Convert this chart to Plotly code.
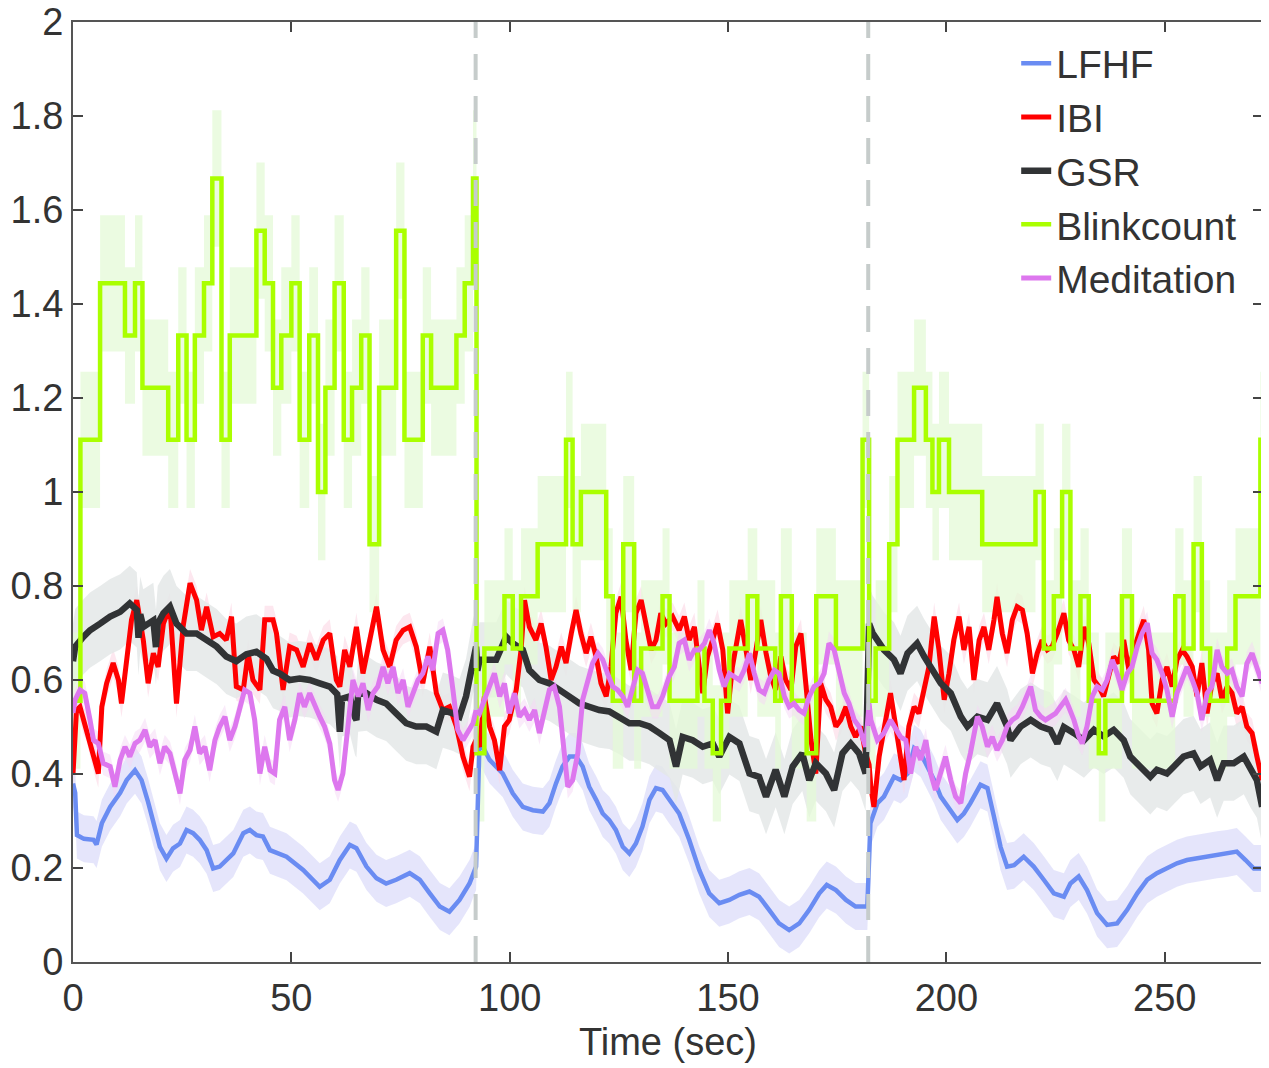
import plotly.graph_objects as go

# ---------------- data ----------------
# Segment boundaries (dashed lines), seconds
boundaries = [92.2, 182.1]

lfhf_x = [0, 0.5, 0.9, 2.5, 4.7, 5.4, 6.6, 8.5, 10.8, 12.3, 14.2, 15.7, 17.2, 18.4, 19.9, 21.4, 22.9, 24.5,
          26.0, 27.5, 29.0, 30.6, 32.1, 33.6, 35.1, 36.7, 39.0, 40.5, 42.0, 43.5, 45.1, 48.9, 52.7, 56.5,
          58.8, 61.1, 63.4, 64.9, 67.2, 69.5, 71.7, 74.0, 77.1, 79.4, 81.7, 84.0, 86.2, 88.5, 90.8, 92.3,
          93.1, 95.4, 98.4, 100.7, 103.0, 105.3, 107.6, 109.1, 110.6, 112.1, 113.7, 115.2, 116.7, 118.2,
          119.8, 121.3, 122.8, 124.3, 125.9, 127.4, 128.9, 130.4, 132.0, 133.5, 135.0, 136.5, 138.8, 141.1,
          143.4, 145.7, 148.0, 150.3, 152.6, 154.9, 157.1, 159.4, 161.7, 164.0, 166.3, 168.6, 170.9, 172.6,
          174.7, 177.0, 179.2, 181.9, 182.6, 184.2, 185.7, 188.0, 189.5, 191.1, 192.6, 194.1, 195.6, 197.2,
          198.7, 201.0, 202.5, 204.0, 205.5, 207.8, 209.4, 210.9, 212.4, 213.9, 215.5, 217.7, 220.0, 222.3,
          224.6, 226.9, 228.4, 230.3, 232.2, 234.5, 236.8, 239.1, 241.4, 243.7, 246.0, 248.2, 250.5, 252.8,
          255.1, 257.4, 259.7, 262.0, 264.3, 266.5, 268.5, 270.4, 272.3]
lfhf_y = [0.38, 0.36, 0.27, 0.262, 0.26, 0.25, 0.295, 0.33, 0.36, 0.387, 0.408, 0.387, 0.34, 0.295, 0.245, 0.22,
          0.242, 0.252, 0.281, 0.274, 0.26, 0.238, 0.199, 0.203, 0.217, 0.231, 0.274, 0.281, 0.27, 0.267, 0.238,
          0.224, 0.196, 0.16, 0.175, 0.217, 0.249, 0.242, 0.203, 0.178, 0.167, 0.175, 0.189, 0.175, 0.146, 0.118,
          0.107, 0.132, 0.167, 0.203, 0.472, 0.43, 0.401, 0.359, 0.33, 0.323, 0.32, 0.338, 0.38, 0.416, 0.437,
          0.437, 0.416, 0.373, 0.345, 0.316, 0.302, 0.281, 0.245, 0.231, 0.252, 0.288, 0.345, 0.37, 0.366, 0.345,
          0.316, 0.26, 0.196, 0.146, 0.125, 0.132, 0.143, 0.15, 0.139, 0.111, 0.082, 0.068, 0.082, 0.111, 0.146,
          0.164, 0.153, 0.132, 0.118, 0.118, 0.295, 0.338, 0.352, 0.394, 0.387, 0.401, 0.455, 0.444, 0.416,
          0.387, 0.352, 0.323, 0.302, 0.316, 0.338, 0.377, 0.37, 0.309, 0.245, 0.203, 0.206, 0.224, 0.203, 0.175,
          0.146, 0.139, 0.167, 0.182, 0.153, 0.104, 0.079, 0.082, 0.111, 0.146, 0.175, 0.189, 0.199, 0.21, 0.217,
          0.221, 0.224, 0.228, 0.231, 0.235, 0.217, 0.199, 0.199]

ibi_x = [0, 0.8, 1.6, 2.4, 3.1, 4.7, 5.8, 6.6, 7.7, 9.2, 10.4, 11.1, 12.3, 13.4, 14.6, 16.1, 17.2, 18.4, 19.5,
         20.7, 22.2, 23.7, 25.2, 26.8, 28.3, 29.4, 30.6, 32.1, 33.6, 35.1, 36.3, 37.4, 39.0, 40.1, 41.2, 42.8,
         43.9, 45.8, 46.6, 48.1, 49.6, 51.2, 52.7, 54.2, 55.7, 57.3, 58.8, 60.3, 61.1, 62.2, 63.4, 64.9, 66.4,
         67.9, 69.5, 71.0, 72.5, 74.0, 75.6, 77.1, 78.6, 80.1, 81.7, 83.2, 84.7, 86.2, 87.8, 89.3, 90.8, 91.6,
         92.3, 93.1, 94.2, 95.4, 96.5, 97.7, 98.8, 99.9, 101.5, 102.6, 103.4, 104.5, 106.0, 107.2, 108.3, 109.5,
         110.6, 111.8, 112.9, 114.1, 115.2, 116.3, 117.5, 118.6, 119.8, 120.9, 122.1, 123.2, 124.3, 125.5,
         126.6, 127.8, 128.9, 130.1, 131.2, 132.4, 133.5, 134.6, 135.8, 137.3, 138.8, 140.0, 141.1, 142.3,
         143.4, 144.2, 145.3, 146.5, 147.6, 148.8, 149.9, 151.0, 152.2, 152.9, 154.1, 155.2, 156.4, 157.5,
         158.7, 159.8, 160.9, 162.1, 163.2, 164.4, 165.5, 166.7, 167.8, 169.0, 170.1, 171.2, 172.4, 173.5,
         174.7, 175.8, 177.0, 178.1, 179.2, 180.4, 181.5, 182.3, 182.7, 183.4, 184.6, 185.7, 187.2, 188.4,
         189.5, 190.3, 191.4, 192.6, 193.7, 194.9, 196.0, 197.2, 198.3, 199.5, 200.6, 201.7, 202.9, 204.0,
         205.2, 206.3, 207.5, 208.6, 209.7, 210.9, 211.6, 212.8, 213.9, 215.1, 216.2, 217.4, 218.5, 219.7,
         220.8, 221.9, 223.1, 224.2, 225.4, 226.9, 228.0, 229.2, 230.3, 231.5, 232.6, 233.8, 234.9, 236.0,
         237.2, 238.3, 239.5, 240.6, 241.8, 242.9, 244.1, 245.2, 246.3, 247.1, 248.2, 249.4, 250.5, 251.7,
         252.8, 254.0, 255.1, 256.3, 257.4, 258.5, 259.7, 260.8, 262.0, 263.1, 264.3, 265.4, 266.5, 267.7,
         268.8, 270.0, 271.1, 272.3]
ibi_y = [0.40, 0.536, 0.543, 0.515, 0.50, 0.437, 0.401, 0.543, 0.593, 0.636, 0.6, 0.55, 0.636, 0.728, 0.77,
         0.685, 0.593, 0.657, 0.628, 0.72, 0.756, 0.55, 0.713, 0.806, 0.77, 0.706, 0.756, 0.692, 0.699, 0.685,
         0.735, 0.586, 0.579, 0.657, 0.6, 0.579, 0.728, 0.728, 0.699, 0.579, 0.671, 0.664, 0.628, 0.678, 0.643,
         0.685, 0.699, 0.6, 0.586, 0.664, 0.628, 0.713, 0.614, 0.678, 0.756, 0.664, 0.628, 0.685, 0.706, 0.713,
         0.671, 0.593, 0.671, 0.572, 0.536, 0.543, 0.501, 0.437, 0.394, 0.458, 0.472, 0.458, 0.565, 0.501,
         0.472, 0.408, 0.501, 0.515, 0.579, 0.664, 0.77, 0.713, 0.685, 0.72, 0.671, 0.6, 0.628, 0.671, 0.636,
         0.699, 0.749, 0.699, 0.657, 0.692, 0.65, 0.593, 0.565, 0.628, 0.742, 0.777, 0.685, 0.621, 0.742, 0.77,
         0.72, 0.664, 0.685, 0.742, 0.72, 0.735, 0.706, 0.735, 0.685, 0.713, 0.628, 0.572, 0.65, 0.685, 0.72,
         0.664, 0.529, 0.628, 0.692, 0.728, 0.664, 0.6, 0.664, 0.728, 0.657, 0.607, 0.579, 0.65, 0.60, 0.579,
         0.671, 0.699, 0.593, 0.472, 0.401, 0.593, 0.558, 0.543, 0.501, 0.515, 0.543, 0.501, 0.479, 0.501,
         0.444, 0.42, 0.373, 0.33, 0.437, 0.501, 0.572, 0.501, 0.437, 0.387, 0.501, 0.543, 0.529, 0.579, 0.628,
         0.735, 0.664, 0.558, 0.614, 0.685, 0.735, 0.664, 0.713, 0.6, 0.685, 0.713, 0.664, 0.728, 0.777, 0.699,
         0.657, 0.728, 0.756, 0.749, 0.699, 0.614, 0.657, 0.685, 0.664, 0.671, 0.699, 0.742, 0.685, 0.664,
         0.628, 0.713, 0.678, 0.6, 0.586, 0.565, 0.614, 0.65, 0.636, 0.685, 0.621, 0.664, 0.699, 0.728, 0.664,
         0.55, 0.529, 0.6, 0.628, 0.586, 0.643, 0.664, 0.65, 0.628, 0.565, 0.636, 0.529, 0.593, 0.614, 0.558,
         0.586, 0.572, 0.529, 0.543, 0.501, 0.487, 0.437, 0.387]

gsr_x = [0, 0.5, 2.4, 3.9, 6.2, 8.5, 10.8, 13.0, 14.6, 15.0, 15.4, 16.1, 18.4, 19.0, 19.4, 20.7, 22.2, 23.7,
         26.0, 28.3, 30.6, 32.9, 35.1, 37.4, 39.7, 42.0, 44.3, 45.8, 47.3, 49.6, 51.9, 54.2, 56.5, 58.8, 60.5,
         61.1, 61.6, 63.4, 64.6, 64.9, 65.3, 67.2, 69.5, 71.7, 74.0, 76.3, 78.6, 80.9, 83.2, 84.7, 87.0, 88.5,
         90.0, 91.6, 92.3, 92.6, 93.1, 95.4, 96.9, 99.2, 100.7, 103.0, 104.5, 106.8, 109.1, 111.4, 113.7,
         116.0, 118.2, 120.5, 122.8, 125.1, 127.4, 129.7, 132.0, 134.3, 136.6, 138.1, 139.6, 141.9, 144.2,
         146.5, 148.0, 150.3, 152.6, 154.9, 157.1, 158.7, 160.9, 162.9, 164.8, 167.0, 168.6, 170.1, 172.4,
         174.3, 176.2, 178.1, 180.0, 181.5, 182.3, 183.1, 185.7, 188.0, 189.5, 191.1, 193.3, 194.9, 196.4,
         198.7, 201.0, 203.3, 204.8, 207.1, 209.4, 211.6, 213.9, 214.7, 217.0, 219.3, 221.6, 223.8, 225.4,
         226.9, 229.2, 231.5, 233.8, 236.0, 238.3, 240.6, 242.1, 244.4, 246.7, 248.2, 250.5, 252.1, 254.3,
         256.6, 258.2, 260.4, 262.0, 263.5, 265.8, 268.1, 269.6, 271.1, 272.3]
gsr_y = [0.64, 0.671, 0.692, 0.706, 0.72, 0.735, 0.745, 0.763, 0.749, 0.69, 0.74, 0.713, 0.727, 0.67, 0.72,
         0.742, 0.756, 0.72, 0.699, 0.699, 0.685, 0.671, 0.65, 0.64, 0.655, 0.66, 0.645, 0.62, 0.614, 0.6,
         0.603, 0.6, 0.593, 0.586, 0.57, 0.49, 0.56, 0.565, 0.52, 0.515, 0.57, 0.572, 0.558, 0.55, 0.529, 0.508,
         0.501, 0.501, 0.49, 0.536, 0.529, 0.522, 0.565, 0.65, 0.671, 0.62, 0.643, 0.643, 0.643, 0.692, 0.678,
         0.664, 0.621, 0.6, 0.593, 0.579, 0.565, 0.55, 0.543, 0.536, 0.533, 0.522, 0.508, 0.508, 0.501, 0.487,
         0.472, 0.416, 0.479, 0.472, 0.458, 0.465, 0.437, 0.479, 0.465, 0.401, 0.394, 0.352, 0.409, 0.352,
         0.416, 0.444, 0.387, 0.423, 0.401, 0.366, 0.444, 0.465, 0.444, 0.401, 0.72, 0.70, 0.664, 0.643, 0.614,
         0.657, 0.678, 0.65, 0.628, 0.593, 0.572, 0.522, 0.501, 0.522, 0.515, 0.55, 0.501, 0.472, 0.501, 0.515,
         0.501, 0.494, 0.465, 0.50, 0.487, 0.472, 0.494, 0.48, 0.494, 0.472, 0.437, 0.416, 0.394, 0.409, 0.401,
         0.416, 0.437, 0.444, 0.416, 0.43, 0.387, 0.423, 0.423, 0.437, 0.409, 0.387, 0.33]

med_x = [0, 0.5, 1.6, 2.7, 3.9, 4.7, 5.8, 6.9, 8.5, 9.6, 10.8, 11.9, 13.0, 14.2, 15.3, 16.5, 17.6, 18.8, 19.9,
         21.0, 22.2, 23.3, 24.5, 25.6, 26.8, 27.9, 29.0, 30.2, 31.3, 32.5, 33.6, 34.8, 35.9, 37.1, 38.2, 39.3,
         40.5, 41.6, 42.8, 43.9, 45.1, 46.2, 47.3, 48.5, 49.6, 50.8, 51.9, 53.0, 54.2, 55.4, 56.5, 57.6, 58.8,
         59.9, 60.7, 61.8, 63.0, 64.1, 65.3, 66.4, 67.6, 68.7, 69.8, 71.0, 72.1, 73.3, 74.4, 75.6, 76.7, 77.8,
         79.0, 80.1, 81.3, 82.4, 83.6, 84.7, 85.8, 87.0, 88.1, 89.3, 90.4, 91.6, 92.3, 93.1, 94.2, 95.4, 96.5,
         97.7, 98.8, 99.9, 101.1, 102.2, 103.4, 104.5, 105.7, 106.8, 108.0, 109.1, 110.2, 111.4, 112.5, 113.3,
         114.4, 115.6, 116.7, 117.9, 119.0, 120.2, 121.3, 122.4, 123.6, 124.7, 125.9, 127.0, 128.2, 129.3,
         130.4, 131.6, 132.7, 133.9, 135.0, 136.5, 137.7, 138.8, 140.0, 141.1, 142.3, 143.4, 144.6, 145.7,
         146.8, 148.0, 149.1, 150.3, 151.4, 152.6, 153.7, 154.9, 156.0, 157.1, 158.3, 159.4, 160.6, 161.7,
         162.9, 164.0, 165.1, 166.3, 167.4, 168.6, 169.7, 170.9, 172.0, 173.1, 174.3, 175.4, 176.6, 177.7,
         178.9, 180.0, 181.5, 182.3, 182.7, 184.2, 185.7, 187.2, 188.4, 189.5, 190.7, 191.8, 193.0, 194.1,
         195.3, 196.4, 197.5, 198.7, 199.8, 201.0, 202.1, 203.3, 204.4, 205.5, 207.1, 208.2, 209.4, 210.5,
         211.6, 212.8, 213.9, 215.1, 216.2, 217.4, 218.5, 219.3, 220.4, 221.6, 222.7, 223.8, 225.0, 226.1,
         227.3, 228.0, 229.2, 230.3, 231.1, 232.2, 233.4, 234.5, 235.7, 236.8, 238.0, 239.1, 240.2, 241.4,
         242.5, 243.7, 244.8, 246.0, 247.1, 248.2, 249.4, 250.5, 251.7, 252.8, 254.0, 255.1, 256.3, 257.4,
         258.5, 259.7, 260.8, 262.0, 263.1, 264.3, 265.4, 266.5, 267.7, 268.8, 270.0, 271.1, 272.3]
med_y = [0.53, 0.558, 0.579, 0.572, 0.515, 0.472, 0.465, 0.423, 0.416, 0.373, 0.43, 0.458, 0.437, 0.465,
         0.472, 0.494, 0.458, 0.472, 0.423, 0.458, 0.444, 0.408, 0.359, 0.43, 0.451, 0.501, 0.444, 0.458,
         0.408, 0.472, 0.501, 0.522, 0.472, 0.501, 0.543, 0.579, 0.572, 0.515, 0.401, 0.458, 0.408, 0.401,
         0.515, 0.543, 0.472, 0.515, 0.572, 0.543, 0.572, 0.543, 0.522, 0.501, 0.465, 0.387, 0.366, 0.401,
         0.501, 0.6, 0.565, 0.593, 0.536, 0.572, 0.586, 0.628, 0.593, 0.628, 0.572, 0.6, 0.543, 0.572, 0.6,
         0.614, 0.65, 0.621, 0.699, 0.706, 0.664, 0.579, 0.494, 0.472, 0.487, 0.508, 0.536, 0.529, 0.558,
         0.586, 0.614, 0.565, 0.593, 0.529, 0.572, 0.522, 0.536, 0.515, 0.536, 0.487, 0.536, 0.579, 0.586,
         0.543, 0.444, 0.373, 0.387, 0.444, 0.558, 0.6, 0.636, 0.657, 0.643, 0.614, 0.586, 0.579, 0.565,
         0.543, 0.586, 0.621, 0.614, 0.572, 0.543, 0.543, 0.565, 0.607, 0.628, 0.678, 0.685, 0.643, 0.664,
         0.664, 0.678, 0.706, 0.678, 0.621, 0.586, 0.614, 0.607, 0.6, 0.621, 0.657, 0.614, 0.579, 0.572, 0.6,
         0.621, 0.614, 0.565, 0.543, 0.55, 0.536, 0.529, 0.565, 0.586, 0.593, 0.614, 0.678, 0.664, 0.614,
         0.572, 0.55, 0.515, 0.501, 0.458, 0.55, 0.515, 0.472, 0.487, 0.515, 0.494, 0.479, 0.472, 0.401,
         0.458, 0.43, 0.472, 0.401, 0.366, 0.401, 0.437, 0.387, 0.352, 0.338, 0.401, 0.444, 0.522, 0.501,
         0.458, 0.479, 0.451, 0.472, 0.501, 0.515, 0.522, 0.543, 0.565, 0.586, 0.536, 0.522, 0.515, 0.522,
         0.529, 0.543, 0.558, 0.543, 0.515, 0.48, 0.465, 0.501, 0.565, 0.586, 0.579, 0.6, 0.643, 0.614, 0.579,
         0.614, 0.628, 0.671, 0.699, 0.721, 0.657, 0.643, 0.614, 0.579, 0.522, 0.572, 0.6, 0.628, 0.6, 0.572,
         0.515, 0.572, 0.586, 0.664, 0.628, 0.614, 0.621, 0.586, 0.565, 0.635, 0.657, 0.628, 0.593]

# Blink count: step function (time where each level starts, level value)
blink_x = [0, 1.7, 6.2, 11.9, 14.2, 15.9, 21.8, 24.1, 26.0, 27.9, 30.0, 31.9, 34.0, 35.9, 42.0, 43.9, 45.8,
           47.7, 50.0, 51.9, 54.1, 56.1, 57.8, 59.9, 62.0, 63.9, 66.0, 67.9, 70.1, 74.0, 75.9, 80.1, 82.0,
           87.8, 89.7, 91.6,
           92.4, 94.2, 98.8, 100.7, 102.6, 106.4, 112.9, 114.4, 116.3, 122.1, 123.6, 126.0, 128.5, 130.1,
           135.0, 136.6, 143.0, 144.6, 146.5, 148.4, 150.3, 154.5, 156.7, 160.8, 162.1, 164.6, 168.0, 170.2,
           174.7, 180.8,
           182.3, 183.8, 186.9, 188.8, 192.6, 195.3, 196.8, 198.3, 200.6, 208.2, 220.4, 222.3, 224.6, 226.5,
           228.4, 230.7, 232.6, 234.9, 236.4, 240.2, 242.5, 252.4, 254.3, 256.6, 258.5, 260.4, 264.3, 266.2,
           271.9, 272.5]
blink_y = [0.556, 1.111, 1.444, 1.333, 1.444, 1.222, 1.111, 1.333, 1.111, 1.333, 1.444, 1.667, 1.111, 1.333,
           1.556, 1.444, 1.222, 1.333, 1.444, 1.111, 1.333, 1.0, 1.222, 1.444, 1.111, 1.222, 1.333, 0.889,
           1.222, 1.556, 1.111, 1.333, 1.222, 1.333, 1.444, 1.667,
           0.444, 0.667, 0.778, 0.667, 0.778, 0.889, 1.111, 0.889, 1.0, 0.778, 0.556, 0.889, 0.556, 0.667,
           0.778, 0.556, 0.667, 0.556, 0.444, 0.556, 0.667, 0.778, 0.667, 0.556, 0.778, 0.556, 0.444, 0.778,
           0.667, 1.111,
           0.556, 0.667, 0.889, 1.111, 1.222, 1.111, 1.0, 1.111, 1.0, 0.889, 1.0, 0.667, 0.778, 1.0, 0.667,
           0.778, 0.556, 0.444, 0.556, 0.778, 0.556, 0.778, 0.667, 0.889, 0.667, 0.556, 0.667, 0.778, 1.111,
           1.111]

# half-widths of the shaded error bands
band_hw = {"LFHF": 0.05, "IBI": 0.03, "GSR": 0.08, "Blinkcount": 0.145, "Meditation": 0.025}

# ---------------- styling ----------------
colors = {"LFHF": "#6A8CF2", "IBI": "#FF0000", "GSR": "#313335", "Blinkcount": "#AAFF00",
          "Meditation": "#DD77EE"}
band_colors = {"LFHF": "rgba(225,225,250,0.85)", "IBI": "rgba(252,215,228,0.6)",
               "GSR": "rgba(228,231,231,0.85)", "Blinkcount": "rgba(228,250,215,0.75)",
               "Meditation": "rgba(245,215,245,0.5)"}
widths = {"LFHF": 4.5, "IBI": 5, "GSR": 6.5, "Blinkcount": 4.5, "Meditation": 5}

series = [("LFHF", lfhf_x, lfhf_y, "linear"),
          ("IBI", ibi_x, ibi_y, "linear"),
          ("GSR", gsr_x, gsr_y, "linear"),
          ("Blinkcount", blink_x, blink_y, "hv"),
          ("Meditation", med_x, med_y, "linear")]

fig = go.Figure()

# bands first
for name, xs, ys, shape in series:
    hw = band_hw[name]
    fig.add_trace(go.Scatter(x=xs, y=[v - hw for v in ys], mode="lines", line=dict(width=0, shape=shape),
                             showlegend=False, hoverinfo="skip"))
    fig.add_trace(go.Scatter(x=xs, y=[v + hw for v in ys], mode="lines", line=dict(width=0, shape=shape),
                             fill="tonexty", fillcolor=band_colors[name], showlegend=False,
                             hoverinfo="skip"))

# lines
for rank, (name, xs, ys, shape) in enumerate(series):
    fig.add_trace(go.Scatter(x=xs, y=ys, mode="lines", name=name, legendrank=rank + 1,
                             line=dict(color=colors[name], width=widths[name], shape=shape)))

# dashed segment boundaries
for b in boundaries:
    fig.add_shape(type="line", x0=b, x1=b, xref="x", y0=0, y1=1, yref="paper", layer="above",
                  line=dict(color="#C6CCCB", width=4, dash="26px,16px"))

axis_common = dict(showgrid=False, zeroline=False, showline=True, linecolor="#555555", linewidth=2,
                   mirror="ticks", ticks="inside", ticklen=10, tickwidth=2, tickcolor="#444444",
                   ticklabeloverflow="allow", tickfont=dict(size=38, color="#333333"))

# page body adds an 8px offset, so the figure is sized/margined to compensate
fig.update_layout(
    width=1261, height=1060,
    margin=dict(l=65, r=6, t=14, b=106, autoexpand=False),
    paper_bgcolor="white", plot_bgcolor="white",
    font=dict(family="Liberation Sans, Arial, Helvetica, sans-serif", color="#333333"),
    xaxis=dict(range=[0, 272.5], tickvals=[0, 50, 100, 150, 200, 250], ticklabelstandoff=1,
               title=dict(text="Time (sec)", font=dict(size=38, color="#333333"), standoff=11),
               **axis_common),
    yaxis=dict(range=[0, 2], tickvals=[0, 0.2, 0.4, 0.6, 0.8, 1, 1.2, 1.4, 1.6, 1.8, 2],
               ticktext=["0", "0.2", "0.4", "0.6", "0.8", "1", "1.2", "1.4", "1.6", "1.8", "2"],
               ticklabelstandoff=0, **axis_common),
    legend=dict(x=0.7926, y=0.99, xanchor="left", yanchor="top", bgcolor="rgba(0,0,0,0)",
                traceorder="normal", font=dict(size=39, color="#333333"), tracegroupgap=0),
    showlegend=True,
)

fig.write_html("out.html")
